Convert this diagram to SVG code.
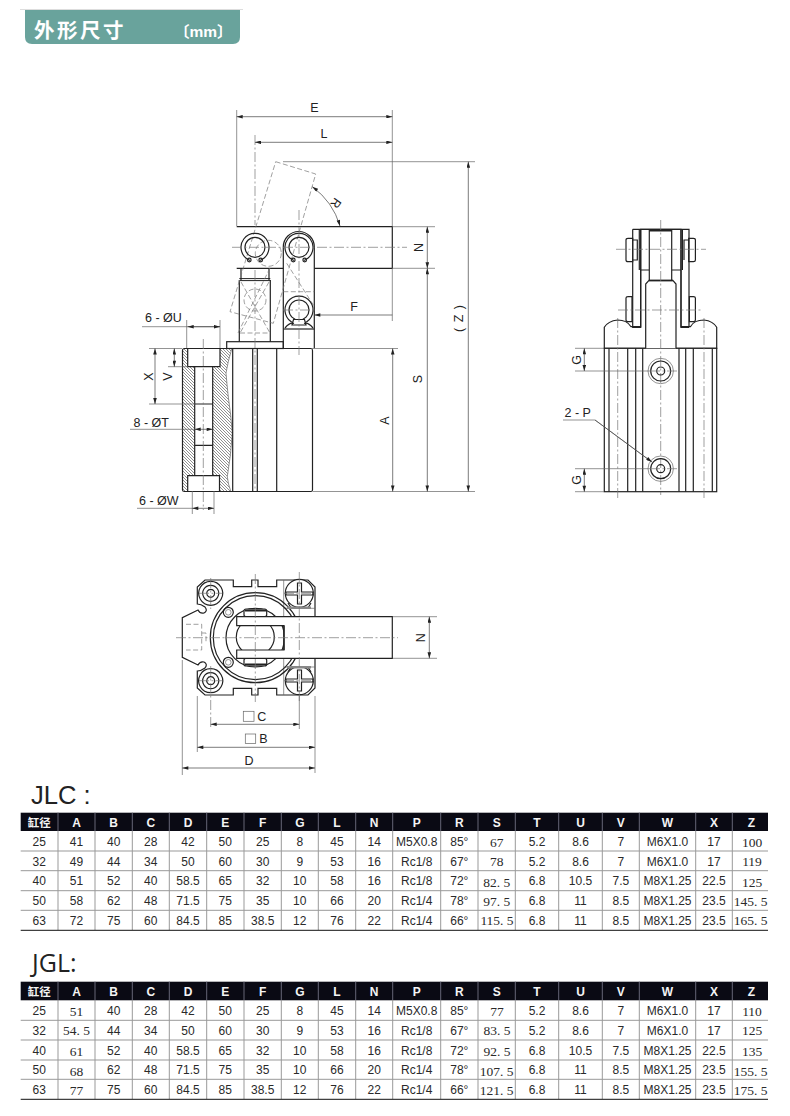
<svg xmlns="http://www.w3.org/2000/svg" width="790" height="1116" viewBox="0 0 790 1116">
<defs>
<marker id="a" viewBox="0 0 10 6" refX="10" refY="3" markerWidth="7" markerHeight="3.6" markerUnits="userSpaceOnUse" orient="auto-start-reverse"><path d="M0 0L10 3L0 6z" fill="#222"/></marker>
<pattern id="h" width="3" height="3" patternUnits="userSpaceOnUse"><path d="M-1 -1L4 4M-1 2L1 4M2 -1L4 1" stroke="#444" stroke-width=".6" fill="none"/></pattern>
</defs>
<style>
text{font-family:"Liberation Sans","Noto Sans CJK SC",sans-serif;fill:#222}
.m{fill:none;stroke:#222;stroke-width:1.2}
.w{fill:#fff;stroke:#222;stroke-width:1.2}
.t{fill:none;stroke:#666;stroke-width:.7}
.cl{fill:none;stroke:#777;stroke-width:.7;stroke-dasharray:10 2.5 2 2.5}
.ds{fill:none;stroke:#777;stroke-width:.7;stroke-dasharray:5 2.5}
.d{fill:none;stroke:#444;stroke-width:.7;marker-start:url(#a);marker-end:url(#a)}
.l{font-size:12.5px}
.c{font-size:12px;text-anchor:middle;fill:#2a2a2a}
.s{font-family:"Liberation Serif",serif;font-size:13.5px;text-anchor:middle;fill:#2a2a2a}
.th{font-size:12px;font-weight:bold;text-anchor:middle;fill:#f4f4f4}
.g{fill:none;stroke:#999;stroke-width:1}
.k{fill:none;stroke:#111;stroke-width:1}
</style>
<rect width="790" height="1116" fill="#fff"/>

<g id="title">
<path d="M20 9.5H243" stroke="#ddd" stroke-width="1" fill="none"/>
<path d="M25 10H240V37Q240 44 233 44H32Q25 44 25 37Z" fill="#69a39c"/>
<text x="34" y="38" font-size="20.5" font-weight="bold" letter-spacing="2.5" style="fill:#fff">外形尺寸</text>
<text x="174" y="37" font-size="15.5" font-weight="bold" style="fill:#fff">〔mm〕</text>
</g>

<g id="front-view">
<path d="M182.5 350.5Q182.5 348.5 184.5 348.5H311Q312.5 348.5 312.5 350.5V490Q312.5 491.5 311 491.5H184.5Q182.5 491.5 182.5 490Z" class="w"/>
<path d="M183 367H194.7V475.7H183ZM183 349H187.7V367H183ZM183 476H187.7V491H183Z" fill="url(#h)"/>
<path d="M220 349H231.7Q228 361 226 373Q227 385 228.3 397Q231 415 232.3 433Q231 455 227.3 476.7Q228 484 230.7 491H219.5V475.7H212.7V366.7H220Z" fill="url(#h)"/>
<path d="M187.7 348.5V366.7H220V348.5M194.7 366.7V475.7M212.7 366.7V475.7M187.7 491.5V475.7H219.5V491.5M194.7 404H212.7M194.7 445.3H212.7" class="m"/>
<path d="M231.7 349Q228 361 226 373Q227 385 228.3 397Q231 415 232.3 433Q231 455 227.3 476.7Q228 484 230.7 491" class="t"/>
<path d="M232.7 348.5V491.5M252.7 348.5V491.5M257.3 348.5V491.5M276.7 348.5V491.5" class="m"/>
<rect x="226.7" y="341.7" width="56.6" height="6.8" class="w"/>
<path d="M239.3 341.7V280M270.3 341.7V280M241 280V268.3M269 280V268.3" class="m"/>
<path d="M239.3 278.6H270.3M239.3 280.6H270.3" stroke="#222" stroke-width="1" fill="none"/>
<path d="M236.7 226.7H392.3V268.3H314.3M283.3 268.3H236.7Z" class="m"/>
<path d="M283.3 348.3V247A15.5 15.5 0 0 1 314.3 247V348.3" class="m"/>
<path d="M275.7 161.7L315.7 174L273.3 323.3L230 311.7Z" class="ds"/>
<circle cx="268.3" cy="253.3" r="13" class="ds"/>
<circle cx="255" cy="300" r="11" class="ds"/>
<path d="M241 282L270 333M269 282L240 333M240 333H270M283.3 291.7H314.3M286.7 263.3L314 306M238 333L270 268" class="ds"/>
<path d="M250.2 260.5A14 14 0 1 1 259.8 260.5" class="m" stroke-width="1.5"/>
<circle cx="255" cy="247.3" r="10" class="m"/>
<circle cx="249.3" cy="260" r="1.8" class="m"/>
<circle cx="260.7" cy="260" r="1.8" class="m"/>
<path d="M294.2 260.5A14 14 0 1 1 303.8 260.5" class="m"/>
<circle cx="299" cy="247.3" r="10" class="m"/>
<circle cx="293.3" cy="260" r="1.8" class="m"/>
<circle cx="304.7" cy="260" r="1.8" class="m"/>
<path d="M294.2 323.2A14 14 0 1 1 303.8 323.2" class="m"/>
<circle cx="299" cy="310" r="10" class="m"/>
<path d="M293.5 319.5H304.5L306 325H292Z" class="w"/>
<path d="M285 328Q290 322 294 323.5M313 328Q308 322 304 323.5" class="m"/>
<path d="M283.3 329H314.3" class="m"/>
<path d="M255 135V225M255 270V491" class="cl"/>
<path d="M299 210V355" class="cl"/>
<path d="M232 247.3H407" class="cl"/>
<path d="M283 310H316" class="cl"/>
<path d="M203.3 339V510" class="cl"/>
</g>

<g id="side-view">
<path d="M604.3 348.3V327.3Q608 321 617.7 320Q627 320 631 326.7H640.7V229.3H681V326.7H690.4Q694 320 704 320Q713 321 716.7 327.3V348.3Z" class="w"/>
<rect x="604.3" y="348.3" width="112.4" height="143.4" class="w"/>
<path d="M609 348.3V491.7M627.7 348.3V491.7M635.7 348.3V491.7M642.7 348.3V491.7M679 348.3V491.7M685.7 348.3V491.7M693.3 348.3V491.7M712.3 348.3V491.7" class="m"/>
<path d="M632.7 229.3H689V327.3M632.7 229.3V327.3H640.7V229.3M681 229.3V327.3H689" class="m"/>
<path d="M626 240Q626 238.3 628 238.3H632.7V261.7H628Q626 261.7 626 260ZM632.7 240H637.3V260H632.7M695.4 240Q695.4 238.3 693.4 238.3H688.7V261.7H693.4Q695.4 261.7 695.4 260ZM688.7 240H684V260" class="m"/>
<path d="M626 298Q626 296.7 628 296.7H632V321.7H628Q626 321.7 626 320ZM695.4 298Q695.4 296.7 693.4 296.7H689.4V321.7H693.4Q695.4 321.7 695.4 320Z" class="m"/>
<path d="M649.3 229.3V280M671.7 229.3V280M640.7 270H649.3M671.7 270H681M639.3 229.3V270M682.4 229.3V270" class="m"/>
<path d="M649.3 230.3H671.7" stroke="#222" stroke-width="2.4" fill="none"/>
<path d="M645.7 348.3V284L649 280.4H672.8L676 284V348.3" class="w"/>
<path d="M649 280.6H672.8" stroke="#222" stroke-width="1.6" fill="none"/>
<path d="M660.7 220V495" class="cl"/>
<path d="M617.7 318V499M704 318V499" class="cl"/>
<path d="M616 249.3H706M618 310H702" class="cl"/>
<g id="port-1"><circle cx="660.7" cy="371" r="12.7" class="t"/><circle cx="660.7" cy="371" r="10" class="m"/><circle cx="660.7" cy="371" r="4" class="m"/><path d="M650 371H677" class="cl"/></g>
<g id="port-2"><circle cx="660.7" cy="468.7" r="12.7" class="t"/><circle cx="660.7" cy="468.7" r="10" class="m"/><circle cx="660.7" cy="468.7" r="4" class="m"/><path d="M650 468.7H677" class="cl"/></g>
</g>

<g id="top-view">
<path d="M205 580H233.3V586.7H251.7V580H258V586.7H276.7V580H308L315 587V688L308 695H276.7V688.3H258V695H251.7V688.3H233.3V695H205L197.3 688V671Q201 671 205 668Q208 664 204 662Q200 661 198 665L182.3 657.3V617.7L198 610Q200 614 204 613Q208 611 205 607Q201 604 197.3 604V587Z" class="w"/>
<path d="M283.7 580V695M283.7 608.3H315M283.7 667H315" class="t"/>
<circle cx="255.3" cy="637.7" r="45" class="m"/>
<circle cx="255.3" cy="637.7" r="42" class="m"/>
<circle cx="255.3" cy="637.7" r="29.3" class="m"/>
<circle cx="228.3" cy="612.3" r="5" class="m"/>
<circle cx="228.3" cy="662.3" r="5" class="m"/>
<circle cx="228.3" cy="612.3" r="2.8" class="t"/>
<circle cx="228.3" cy="662.3" r="2.8" class="t"/>
<path id="corner-1" d="M210.7 581.3a12 12 0 1 0 .01 0M210.7 585.3a8 8 0 1 0 .01 0M210.7 589.3a4 4 0 1 0 .01 0" class="m"/>
<path id="corner-2" d="M210.7 668.7a12 12 0 1 0 .01 0M210.7 672.7a8 8 0 1 0 .01 0M210.7 676.7a4 4 0 1 0 .01 0" class="m"/>
<g id="screw-1"><path d="M288 603L291 608H308L311 603" class="m"/><circle cx="299.3" cy="593.3" r="14" class="w"/><path d="M286 592H297.5V583H301.5V592H313V595H301.5V604H297.5V595H286Z" class="m"/><rect x="287" y="606.5" width="24" height="2.5" fill="#888"/></g>
<g id="screw-2"><path d="M288 672L291 667H308L311 672" class="m"/><circle cx="299.3" cy="680.7" r="14" class="w"/><path d="M286 679H297.5V670H301.5V679H313V682H301.5V691H297.5V682H286Z" class="m"/><rect x="287" y="666" width="24" height="2.5" fill="#888"/></g>
<rect x="244" y="609" width="22.7" height="7.7" rx="2" class="w"/>
<rect x="244" y="658.3" width="22.7" height="7.7" rx="2" class="w"/>
<path d="M245 610.5H266M245 664.5H266" stroke="#222" stroke-width="2" fill="none"/>
<ellipse cx="255.3" cy="637" rx="19" ry="18.5" class="w"/>
<path d="M284 625.7H236.7V616.7H392.3V658.3H236.7V650H284ZM284 625.7" class="w"/>
<path d="M284 625.7V650" class="m"/>
<path d="M186 624.3H201.7V650H186M201.7 633H206V642" class="ds"/>
<path d="M176 637.7H398" class="cl"/>
<path d="M255.3 574V702" class="cl"/>
<path d="M299.3 572V702" class="cl"/>
<path d="M210.7 578V609" class="cl"/>
<path d="M199 593.3H222M199 680.7H222" class="cl"/>
<path d="M284 593.3H315M284 680.7H315" class="cl"/>
<path d="M210.7 666V729" class="cl"/>
<g id="label-c"><rect x="243.3" y="711.3" width="10.7" height="10" class="t"/><text x="257.3" y="720.5" class="l">C</text></g>
<g id="label-b"><rect x="245.3" y="734" width="10.4" height="9.4" class="t"/><text x="259.3" y="743" class="l">B</text></g>
<text id="label-d" x="249" y="764.7" class="l" text-anchor="middle">D</text>
</g>

<g id="connectors">
<path d="M236.7 110V226M392.3 110V226M283 161.7H475M392.3 268V321M392 226.7H435M392 268.3H435M312 348.5H398M313 491.5H475" class="t"/>
<path d="M236.7 116.7H392.3" class="d"/>
<path d="M255 142.3H392.3" class="d"/>
<path d="M392.3 315H314.3" style="fill:none;stroke:#444;stroke-width:.7;marker-end:url(#a)"/>
<path d="M312.3 186.7A75 75 0 0 1 340 226" class="d"/>
<path d="M427.3 226.7V268.3" class="d"/>
<path d="M427.3 268.3V491.5" class="d"/>
<path d="M468.3 161.7V491.5" class="d"/>
<path d="M392.7 348.5V491.5" class="d"/>
<path d="M142 326.7H220M186.7 320V348M220 320V348M149 348.5H182M149 404H195M168 366.7H188M130 429.3H194.7M137 508.3H192.3M192.3 491V514M214 491V514" class="t"/>
<path d="M187.7 326.7H220" class="d"/>
<path d="M155 348.5V404" class="d"/>
<path d="M174.3 348.5V366.7" class="d"/>
<path d="M194.7 429.3H212.7" class="d"/>
<path d="M192.3 508.3H214" class="d"/>
<path d="M575 348.3H604M575 371H650M575 468.7H650M575 491.7H604M563 420H595L649 460" class="t" />
<path d="M595 420L652 462" style="fill:none;stroke:#444;stroke-width:.7;marker-end:url(#a)"/>
<path d="M584.3 348.3V371" class="d"/>
<path d="M584.3 468.7V491.7" class="d"/>
<path d="M393 616.7H437M393 658.3H437M299.3 696V729M197.3 696V752M315 696V773M182.3 660V775" class="t"/>
<path d="M429.3 616.7V658.3" class="d"/>
<path d="M210.7 724.3H299.3" class="d"/>
<path d="M197.3 747.3H315" class="d"/>
<path d="M182.3 768H315" class="d"/>
</g>

<g id="dim-labels" class="l">
<text x="314.5" y="112" class="l" text-anchor="middle">E</text>
<text x="324" y="137.5" class="l" text-anchor="middle">L</text>
<text x="354" y="310.5" class="l" text-anchor="middle">F</text>
<text class="l" text-anchor="middle" transform="translate(332.5 200.7) rotate(125)">R</text>
<text class="l" text-anchor="middle" transform="translate(422.5 247.5) rotate(-90)">N</text>
<text class="l" text-anchor="middle" transform="translate(422 379) rotate(-90)">S</text>
<text class="l" text-anchor="middle" transform="translate(389 420.5) rotate(-90)">A</text>
<text class="l" text-anchor="middle" transform="translate(463 318) rotate(-90)" letter-spacing="1">( Z )</text>
<text x="145" y="322" class="l">6 - ØU</text>
<text class="l" transform="translate(152.5 376.5) rotate(-90)" text-anchor="middle">X</text>
<text class="l" transform="translate(172 376.5) rotate(-90)" text-anchor="middle">V</text>
<text x="133.5" y="426.7" class="l">8 - ØT</text>
<text x="139" y="505" class="l">6 - ØW</text>
<text class="l" text-anchor="middle" transform="translate(580.5 360) rotate(-90)">G</text>
<text class="l" text-anchor="middle" transform="translate(580.5 480) rotate(-90)">G</text>
<text x="564.5" y="416.7" class="l">2 - P</text>
<text class="l" text-anchor="middle" transform="translate(424.5 637.7) rotate(-90)">N</text>
</g>

<g id="table-jlc">
<text x="31" y="804" font-size="25.6">JLC :</text>
<rect x="20.7" y="812.7" width="747.3" height="18.3" fill="#0a0a14"/>
<path d="M58 812.7V831M95 812.7V831M132.3 812.7V831M169.3 812.7V831M206.7 812.7V831M244 812.7V831M281.3 812.7V831M318.3 812.7V831M355.7 812.7V831M392.7 812.7V831M440.7 812.7V831M478 812.7V831M515.3 812.7V831M558.7 812.7V831M602.3 812.7V831M639.3 812.7V831M695.7 812.7V831M732.3 812.7V831" stroke="#667" stroke-width="1" fill="none"/>
<path d="M58 831V930M95 831V930M132.3 831V930M169.3 831V930M206.7 831V930M244 831V930M281.3 831V930M318.3 831V930M355.7 831V930M392.7 831V930M440.7 831V930M478 831V930M515.3 831V930M558.7 831V930M602.3 831V930M639.3 831V930M695.7 831V930M732.3 831V930M20.7 851H768M20.7 870.7H768M20.7 890.7H768M20.7 910.3H768" class="g"/>
<path d="M20.7 930.3H768" class="k"/>
<text class="th" y="826.7"><tspan x="39.3" font-size="11.5">缸径</tspan><tspan x="76.5">A</tspan><tspan x="113.7">B</tspan><tspan x="150.8">C</tspan><tspan x="188">D</tspan><tspan x="225.3">E</tspan><tspan x="262.7">F</tspan><tspan x="299.8">G</tspan><tspan x="337">L</tspan><tspan x="374.2">N</tspan><tspan x="416.7">P</tspan><tspan x="459.3">R</tspan><tspan x="496.7">S</tspan><tspan x="537">T</tspan><tspan x="580.5">U</tspan><tspan x="620.8">V</tspan><tspan x="667.5">W</tspan><tspan x="714">X</tspan><tspan x="751.5">Z</tspan></text>
<text class="c" y="846"><tspan x="39.3">25</tspan><tspan x="76.5">41</tspan><tspan x="113.7">40</tspan><tspan x="150.8">28</tspan><tspan x="188">42</tspan><tspan x="225.3">50</tspan><tspan x="262.7">25</tspan><tspan x="299.8">8</tspan><tspan x="337">45</tspan><tspan x="374.2">14</tspan><tspan x="416.7">M5X0.8</tspan><tspan x="459.3">85°</tspan><tspan x="537">5.2</tspan><tspan x="580.5">8.6</tspan><tspan x="620.8">7</tspan><tspan x="667.5">M6X1.0</tspan><tspan x="714">17</tspan></text>
<text class="c" y="865.7"><tspan x="39.3">32</tspan><tspan x="76.5">49</tspan><tspan x="113.7">44</tspan><tspan x="150.8">34</tspan><tspan x="188">50</tspan><tspan x="225.3">60</tspan><tspan x="262.7">30</tspan><tspan x="299.8">9</tspan><tspan x="337">53</tspan><tspan x="374.2">16</tspan><tspan x="416.7">Rc1/8</tspan><tspan x="459.3">67°</tspan><tspan x="537">5.2</tspan><tspan x="580.5">8.6</tspan><tspan x="620.8">7</tspan><tspan x="667.5">M6X1.0</tspan><tspan x="714">17</tspan></text>
<text class="c" y="885.3"><tspan x="39.3">40</tspan><tspan x="76.5">51</tspan><tspan x="113.7">52</tspan><tspan x="150.8">40</tspan><tspan x="188">58.5</tspan><tspan x="225.3">65</tspan><tspan x="262.7">32</tspan><tspan x="299.8">10</tspan><tspan x="337">58</tspan><tspan x="374.2">16</tspan><tspan x="416.7">Rc1/8</tspan><tspan x="459.3">72°</tspan><tspan x="537">6.8</tspan><tspan x="580.5">10.5</tspan><tspan x="620.8">7.5</tspan><tspan x="667.5">M8X1.25</tspan><tspan x="714">22.5</tspan></text>
<text class="c" y="905"><tspan x="39.3">50</tspan><tspan x="76.5">58</tspan><tspan x="113.7">62</tspan><tspan x="150.8">48</tspan><tspan x="188">71.5</tspan><tspan x="225.3">75</tspan><tspan x="262.7">35</tspan><tspan x="299.8">10</tspan><tspan x="337">66</tspan><tspan x="374.2">20</tspan><tspan x="416.7">Rc1/4</tspan><tspan x="459.3">78°</tspan><tspan x="537">6.8</tspan><tspan x="580.5">11</tspan><tspan x="620.8">8.5</tspan><tspan x="667.5">M8X1.25</tspan><tspan x="714">23.5</tspan></text>
<text class="c" y="924.7"><tspan x="39.3">63</tspan><tspan x="76.5">72</tspan><tspan x="113.7">75</tspan><tspan x="150.8">60</tspan><tspan x="188">84.5</tspan><tspan x="225.3">85</tspan><tspan x="262.7">38.5</tspan><tspan x="299.8">12</tspan><tspan x="337">76</tspan><tspan x="374.2">22</tspan><tspan x="416.7">Rc1/4</tspan><tspan x="459.3">66°</tspan><tspan x="537">6.8</tspan><tspan x="580.5">11</tspan><tspan x="620.8">8.5</tspan><tspan x="667.5">M8X1.25</tspan><tspan x="714">23.5</tspan></text>
<text class="s" y="846.5"><tspan x="496.7">67</tspan><tspan x="752">100</tspan></text>
<text class="s" y="866"><tspan x="496.7">78</tspan><tspan x="752">119</tspan></text>
<text class="s" y="886.5"><tspan x="496.7">82. 5</tspan><tspan x="752">125</tspan></text>
<text class="s" y="905.5"><tspan x="496.7">97. 5</tspan><tspan x="750.5">145. 5</tspan></text>
<text class="s" y="925"><tspan x="497">115. 5</tspan><tspan x="750.5">165. 5</tspan></text>
</g>

<g id="table-jgl">
<text x="32" y="972.3" style="font-family:'Open Sans','Noto Sans',sans-serif" font-size="25">JGL:</text>
<rect x="20.7" y="981.7" width="747.3" height="18.6" fill="#0a0a14"/>
<path d="M58 981.7V1000.3M95 981.7V1000.3M132.3 981.7V1000.3M169.3 981.7V1000.3M206.7 981.7V1000.3M244 981.7V1000.3M281.3 981.7V1000.3M318.3 981.7V1000.3M355.7 981.7V1000.3M392.7 981.7V1000.3M440.7 981.7V1000.3M478 981.7V1000.3M515.3 981.7V1000.3M558.7 981.7V1000.3M602.3 981.7V1000.3M639.3 981.7V1000.3M695.7 981.7V1000.3M732.3 981.7V1000.3" stroke="#667" stroke-width="1" fill="none"/>
<path d="M58 1000V1099M95 1000V1099M132.3 1000V1099M169.3 1000V1099M206.7 1000V1099M244 1000V1099M281.3 1000V1099M318.3 1000V1099M355.7 1000V1099M392.7 1000V1099M440.7 1000V1099M478 1000V1099M515.3 1000V1099M558.7 1000V1099M602.3 1000V1099M639.3 1000V1099M695.7 1000V1099M732.3 1000V1099M20.7 1020.3H768M20.7 1040H768M20.7 1060H768M20.7 1079.3H768" class="g"/>
<path d="M20.7 1099.3H768" class="k"/>
<text class="th" y="996"><tspan x="39.3" font-size="11.5">缸径</tspan><tspan x="76.5">A</tspan><tspan x="113.7">B</tspan><tspan x="150.8">C</tspan><tspan x="188">D</tspan><tspan x="225.3">E</tspan><tspan x="262.7">F</tspan><tspan x="299.8">G</tspan><tspan x="337">L</tspan><tspan x="374.2">N</tspan><tspan x="416.7">P</tspan><tspan x="459.3">R</tspan><tspan x="496.7">S</tspan><tspan x="537">T</tspan><tspan x="580.5">U</tspan><tspan x="620.8">V</tspan><tspan x="667.5">W</tspan><tspan x="714">X</tspan><tspan x="751.5">Z</tspan></text>
<text class="c" y="1015"><tspan x="39.3">25</tspan><tspan x="113.7">40</tspan><tspan x="150.8">28</tspan><tspan x="188">42</tspan><tspan x="225.3">50</tspan><tspan x="262.7">25</tspan><tspan x="299.8">8</tspan><tspan x="337">45</tspan><tspan x="374.2">14</tspan><tspan x="416.7">M5X0.8</tspan><tspan x="459.3">85°</tspan><tspan x="537">5.2</tspan><tspan x="580.5">8.6</tspan><tspan x="620.8">7</tspan><tspan x="667.5">M6X1.0</tspan><tspan x="714">17</tspan></text>
<text class="c" y="1035"><tspan x="39.3">32</tspan><tspan x="113.7">44</tspan><tspan x="150.8">34</tspan><tspan x="188">50</tspan><tspan x="225.3">60</tspan><tspan x="262.7">30</tspan><tspan x="299.8">9</tspan><tspan x="337">53</tspan><tspan x="374.2">16</tspan><tspan x="416.7">Rc1/8</tspan><tspan x="459.3">67°</tspan><tspan x="537">5.2</tspan><tspan x="580.5">8.6</tspan><tspan x="620.8">7</tspan><tspan x="667.5">M6X1.0</tspan><tspan x="714">17</tspan></text>
<text class="c" y="1054.7"><tspan x="39.3">40</tspan><tspan x="113.7">52</tspan><tspan x="150.8">40</tspan><tspan x="188">58.5</tspan><tspan x="225.3">65</tspan><tspan x="262.7">32</tspan><tspan x="299.8">10</tspan><tspan x="337">58</tspan><tspan x="374.2">16</tspan><tspan x="416.7">Rc1/8</tspan><tspan x="459.3">72°</tspan><tspan x="537">6.8</tspan><tspan x="580.5">10.5</tspan><tspan x="620.8">7.5</tspan><tspan x="667.5">M8X1.25</tspan><tspan x="714">22.5</tspan></text>
<text class="c" y="1074.3"><tspan x="39.3">50</tspan><tspan x="113.7">62</tspan><tspan x="150.8">48</tspan><tspan x="188">71.5</tspan><tspan x="225.3">75</tspan><tspan x="262.7">35</tspan><tspan x="299.8">10</tspan><tspan x="337">66</tspan><tspan x="374.2">20</tspan><tspan x="416.7">Rc1/4</tspan><tspan x="459.3">78°</tspan><tspan x="537">6.8</tspan><tspan x="580.5">11</tspan><tspan x="620.8">8.5</tspan><tspan x="667.5">M8X1.25</tspan><tspan x="714">23.5</tspan></text>
<text class="c" y="1094"><tspan x="39.3">63</tspan><tspan x="113.7">75</tspan><tspan x="150.8">60</tspan><tspan x="188">84.5</tspan><tspan x="225.3">85</tspan><tspan x="262.7">38.5</tspan><tspan x="299.8">12</tspan><tspan x="337">76</tspan><tspan x="374.2">22</tspan><tspan x="416.7">Rc1/4</tspan><tspan x="459.3">66°</tspan><tspan x="537">6.8</tspan><tspan x="580.5">11</tspan><tspan x="620.8">8.5</tspan><tspan x="667.5">M8X1.25</tspan><tspan x="714">23.5</tspan></text>
<text class="s" y="1015.5"><tspan x="76.5">51</tspan><tspan x="497">77</tspan><tspan x="752">110</tspan></text>
<text class="s" y="1035"><tspan x="76.5">54. 5</tspan><tspan x="497">83. 5</tspan><tspan x="752">125</tspan></text>
<text class="s" y="1055.5"><tspan x="76.5">61</tspan><tspan x="497">92. 5</tspan><tspan x="752">135</tspan></text>
<text class="s" y="1075.5"><tspan x="76.5">68</tspan><tspan x="496.5">107. 5</tspan><tspan x="750.5">155. 5</tspan></text>
<text class="s" y="1094.5"><tspan x="76.5">77</tspan><tspan x="496.5">121. 5</tspan><tspan x="750.5">175. 5</tspan></text>
</g>
</svg>
